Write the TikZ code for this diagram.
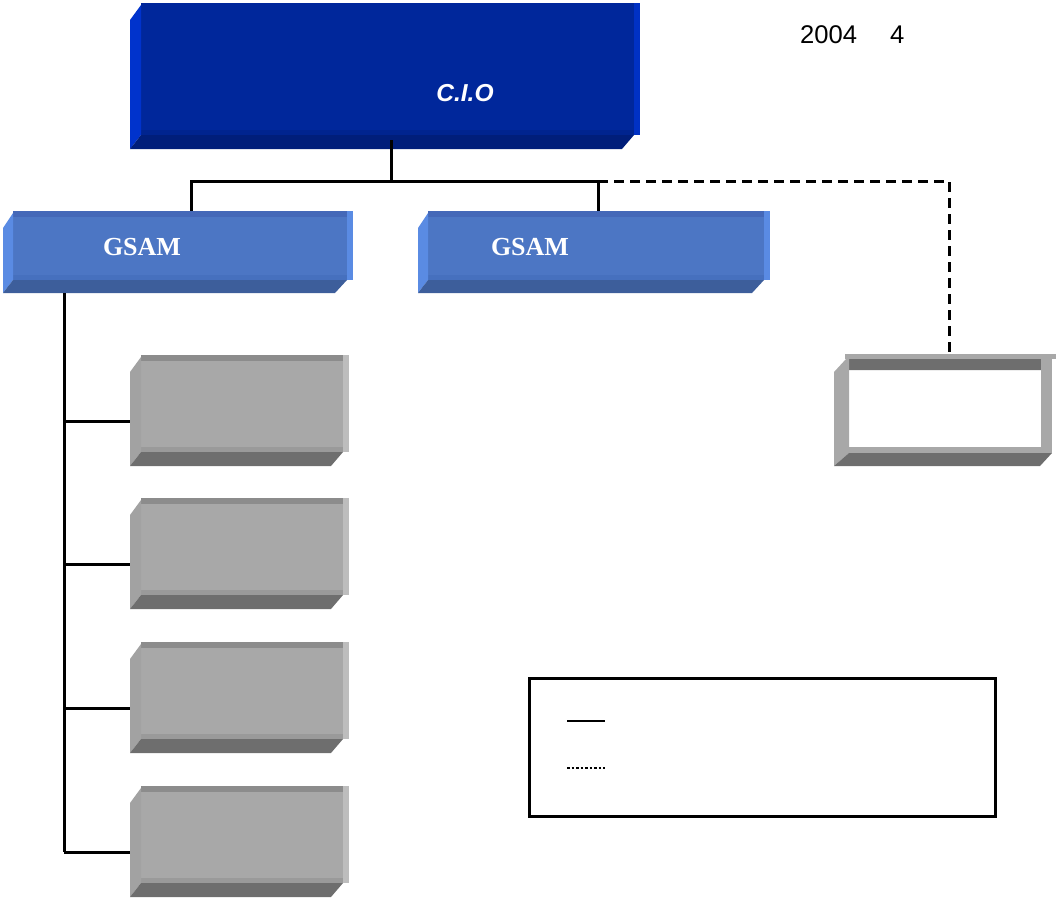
\documentclass[tikz,border=0pt]{standalone}
\usepackage{fontspec}
\usetikzlibrary{fit}
\newfontfamily\arialf{Liberation Sans}
\newfontfamily\timesf{Liberation Serif}
\definecolor{bdfront}{HTML}{00279B}
\definecolor{bdtop}{HTML}{00279B}
\definecolor{bdright}{HTML}{0031C4}
\definecolor{bdmid}{HTML}{00248F}
\definecolor{bdleft}{HTML}{0033CC}
\definecolor{bdbot}{HTML}{001E7A}
\definecolor{bmfront}{HTML}{4C76C4}
\definecolor{bmtop}{HTML}{4468B8}
\definecolor{bmright}{HTML}{5A8BE3}
\definecolor{bmmid}{HTML}{4670BE}
\definecolor{bmleft}{HTML}{5A8BE3}
\definecolor{bmbot}{HTML}{3D5E9B}
\definecolor{gyfront}{HTML}{A8A8A8}
\definecolor{gytop}{HTML}{8C8C8C}
\definecolor{gyright}{HTML}{BDBDBD}
\definecolor{gymid}{HTML}{9A9A9A}
\definecolor{gyleft}{HTML}{A2A2A2}
\definecolor{gybot}{HTML}{6E6E6E}
\newcommand\bevbox[8]{%
  \fill[#8front] (#3,#5) rectangle (#4,#6);
  \fill[#8top] (#3,#5) rectangle (#4,#5+6);
  \fill[#8right] (#4-6,#5) rectangle (#4,#6);
  \fill[#8mid] (#3,#6-5) rectangle (#4-6,#6);
  \fill[#8left] (#2,#5+17) -- (#3,#5+2) -- (#3,#6) -- (#2,#7) -- cycle;
  \fill[#8bot] (#2,#7) -- (#3,#6) -- (#4-6,#6) -- (#4-18,#7) -- cycle;
  \node[fit={(#2,#5)(#4,#7)}, inner sep=0pt] (#1) {};
}
\tikzset{
  conn/.style={line width=3pt, black},
  dconn/.style={line width=3pt, black, dash pattern=on 10pt off 6pt},
  boxtext/.style={text=white, inner sep=0pt},
}
\begin{document}
\begin{tikzpicture}[x=1pt, y=-1pt]
\useasboundingbox (0,0) rectangle (1056,900);
% boxes
\bevbox{cio}{130}{141}{640}{3}{135}{149}{bd}
\bevbox{g1}{3}{13}{353}{211}{280}{293}{bm}
\bevbox{g2}{418}{428}{770}{211}{280}{293}{bm}
\bevbox{b1}{130}{141}{349}{355}{452}{466}{gy}
\bevbox{b2}{130}{141}{349}{498}{595}{609}{gy}
\bevbox{b3}{130}{141}{349}{642}{739}{753}{gy}
\bevbox{b4}{130}{141}{349}{786}{883}{897}{gy}
% frame box
\fill[gyfront] (845,354) rectangle (1056,359);
\fill[gybot] (849,359) -- (1052,359) -- (1041,370) -- (849,370) -- cycle;
\fill[gyfront] (1041,359) rectangle (1052,453);
\fill[gyfront] (845,447) rectangle (1052,453);
\fill[gyfront] (834,372) -- (846,359) -- (849,359) -- (849,453) -- (834,466) -- cycle;
\fill[gybot] (834,466) -- (849,453) -- (1052,453) -- (1040,466) -- cycle;
\node[fit={(834,354)(1056,466)}, inner sep=0pt] (fr) {};
% texts
\node[boxtext, font=\arialf\bfseries\itshape\fontsize{24.5}{28}\selectfont] (ciot) at (465,93) {C.I.O};
\node[boxtext, font=\timesf\bfseries\fontsize{26}{30}\selectfont] (g1t) at (142,247) {GSAM};
\node[boxtext, font=\timesf\bfseries\fontsize{26}{30}\selectfont] (g2t) at (530,247) {GSAM};
\node[anchor=base west, inner sep=0pt, font=\arialf\fontsize{25.6}{28}\selectfont] (date) at (800,43) {2004\hspace{33pt}4};
% connectors
\coordinate (bus) at (391,181);
\coordinate (x1) at (191,181);
\coordinate (x2) at (598,181);
\coordinate (x3) at (949,181);
\draw[conn] (bus |- cio.south) ++(0,-9) -- (bus);
\draw[conn] (x1 |- g1.north) -- (x1) -- (x2) -- (x2 |- g2.north);
\draw[dconn] (x2) -- (x3) -- (x3 |- fr.north);
\coordinate (trk) at (64,293);
\coordinate (t1) at (64,421);
\coordinate (t2) at (64,564);
\coordinate (t3) at (64,708);
\coordinate (t4) at (64,852);
\draw[conn] (trk |- g1.south) -- (t4);
\draw[conn] (t1) -- (t1 -| b1.west);
\draw[conn] (t2) -- (t2 -| b2.west);
\draw[conn] (t3) -- (t3 -| b3.west);
\draw[conn] (t4) -- (t4 -| b4.west);
% legend
\node[draw, line width=2.5pt, minimum width=466pt, minimum height=138pt, inner sep=0pt, anchor=north west] (leg) at (528,677) {};
\coordinate (l1) at (567,721);
\coordinate (l2) at (567,768);
\draw[line width=2.7pt] (l1) -- ++(38,0);
\draw[line width=2.5pt, dash pattern=on 2.5pt off 2pt] (l2) -- ++(38,0);
\end{tikzpicture}
\end{document}
